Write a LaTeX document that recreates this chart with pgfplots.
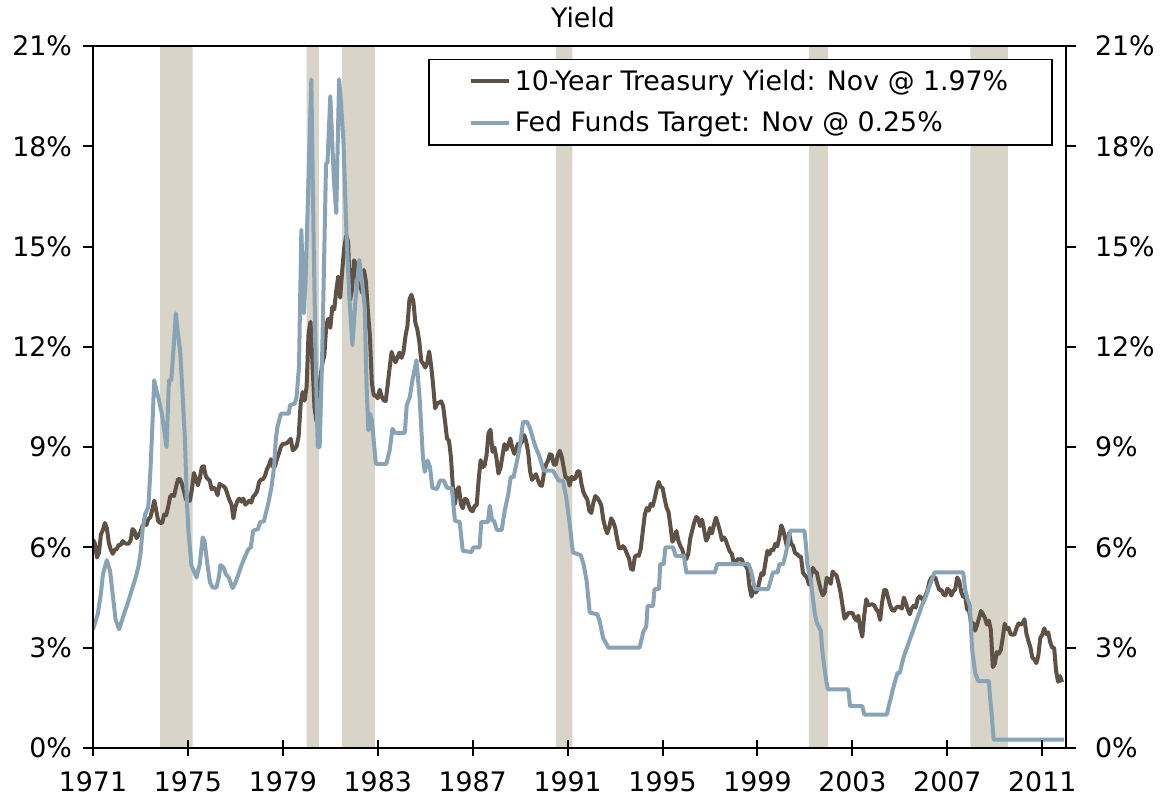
\documentclass[border=0pt]{standalone}
\usepackage{pgfplots}
\pgfplotsset{compat=1.18}
\usepackage{pgfplotstable}
\usepackage{fontspec}
\setmainfont{DejaVu Sans}
\definecolor{brn}{HTML}{5F5145}
\definecolor{blu}{HTML}{88A3B5}
\definecolor{rec}{HTML}{D8D4C8}
\newcommand{\fs}{\fontsize{13.4}{16}\selectfont}

% 10-Year Treasury yield, monthly, Jan 1971 - Nov 2011
\pgfplotstableread[row sep=\\]{
v\\
6.24\\6.11\\5.70\\5.83\\6.39\\6.52\\6.73\\6.58\\6.14\\5.93\\5.81\\5.93\\
5.95\\6.08\\6.07\\6.19\\6.13\\6.11\\6.11\\6.21\\6.55\\6.48\\6.28\\6.36\\
6.46\\6.64\\6.71\\6.67\\6.85\\6.90\\7.13\\7.40\\7.09\\6.79\\6.73\\6.74\\
6.99\\6.96\\7.21\\7.51\\7.58\\7.54\\7.81\\8.04\\8.04\\7.90\\7.68\\7.43\\
7.50\\7.39\\7.73\\8.23\\8.06\\7.86\\8.06\\8.40\\8.43\\8.14\\8.05\\8.00\\
7.74\\7.79\\7.73\\7.56\\7.90\\7.86\\7.83\\7.77\\7.59\\7.41\\7.29\\6.87\\
7.21\\7.39\\7.46\\7.37\\7.46\\7.28\\7.33\\7.40\\7.34\\7.52\\7.58\\7.69\\
7.96\\8.03\\8.04\\8.15\\8.35\\8.46\\8.64\\8.41\\8.42\\8.64\\8.81\\9.01\\
9.10\\9.10\\9.12\\9.18\\9.25\\8.91\\8.95\\9.03\\9.33\\10.30\\10.65\\10.39\\
10.80\\12.41\\12.75\\11.47\\10.18\\9.78\\10.25\\11.10\\11.51\\11.75\\12.68\\12.84\\
12.57\\13.19\\13.12\\13.68\\14.10\\13.47\\14.28\\14.94\\15.32\\15.15\\13.39\\13.72\\
14.59\\14.43\\13.86\\13.87\\13.62\\14.30\\13.95\\13.06\\12.34\\10.91\\10.55\\10.54\\
10.46\\10.72\\10.51\\10.40\\10.38\\10.85\\11.38\\11.85\\11.65\\11.54\\11.69\\11.83\\
11.67\\11.84\\12.32\\12.63\\13.41\\13.56\\13.36\\12.72\\12.52\\12.16\\11.57\\11.50\\
11.38\\11.51\\11.86\\11.43\\10.85\\10.16\\10.31\\10.33\\10.37\\10.24\\9.78\\9.26\\
9.19\\8.70\\7.78\\7.30\\7.71\\7.80\\7.30\\7.17\\7.45\\7.43\\7.25\\7.11\\
7.08\\7.25\\7.25\\8.02\\8.61\\8.40\\8.45\\8.76\\9.42\\9.52\\8.86\\8.99\\
8.67\\8.21\\8.37\\8.72\\9.09\\8.92\\9.06\\9.26\\8.98\\8.80\\8.96\\9.11\\
9.09\\9.17\\9.36\\9.18\\8.86\\8.28\\8.02\\8.11\\8.19\\8.01\\7.87\\7.84\\
8.21\\8.47\\8.59\\8.79\\8.76\\8.48\\8.47\\8.75\\8.89\\8.72\\8.39\\8.08\\
8.09\\7.85\\8.11\\8.04\\8.07\\8.28\\8.27\\7.90\\7.65\\7.53\\7.42\\7.09\\
7.03\\7.34\\7.54\\7.48\\7.39\\7.26\\6.84\\6.59\\6.42\\6.59\\6.87\\6.77\\
6.60\\6.26\\5.98\\5.97\\6.04\\5.96\\5.81\\5.68\\5.36\\5.33\\5.72\\5.77\\
5.75\\5.97\\6.48\\6.97\\7.18\\7.10\\7.30\\7.24\\7.46\\7.74\\7.96\\7.81\\
7.78\\7.47\\7.20\\7.06\\6.63\\6.17\\6.28\\6.49\\6.20\\6.04\\5.93\\5.71\\
5.65\\5.81\\6.27\\6.51\\6.74\\6.91\\6.87\\6.64\\6.83\\6.53\\6.20\\6.30\\
6.58\\6.42\\6.69\\6.89\\6.71\\6.49\\6.22\\6.30\\6.21\\6.03\\5.88\\5.81\\
5.54\\5.57\\5.65\\5.64\\5.65\\5.50\\5.46\\5.34\\4.81\\4.53\\4.83\\4.65\\
4.72\\5.00\\5.23\\5.18\\5.54\\5.90\\5.79\\5.94\\5.92\\6.11\\6.03\\6.28\\
6.66\\6.52\\6.26\\5.99\\6.44\\6.10\\6.05\\5.83\\5.80\\5.74\\5.72\\5.24\\
5.16\\5.10\\4.89\\5.14\\5.39\\5.28\\5.24\\4.97\\4.73\\4.57\\4.65\\5.09\\
5.04\\4.91\\5.28\\5.21\\5.16\\4.93\\4.65\\4.26\\3.87\\3.94\\4.05\\4.03\\
4.05\\3.90\\3.81\\3.96\\3.57\\3.33\\3.98\\4.45\\4.27\\4.29\\4.30\\4.27\\
4.15\\4.08\\3.83\\4.35\\4.72\\4.73\\4.50\\4.28\\4.13\\4.10\\4.19\\4.23\\
4.22\\4.17\\4.50\\4.34\\4.14\\4.00\\4.18\\4.26\\4.20\\4.46\\4.54\\4.47\\
4.42\\4.57\\4.72\\4.99\\5.11\\5.11\\5.09\\4.88\\4.72\\4.73\\4.60\\4.56\\
4.76\\4.72\\4.56\\4.69\\4.75\\5.10\\5.00\\4.67\\4.52\\4.53\\4.15\\4.10\\
3.74\\3.74\\3.51\\3.68\\3.88\\4.10\\4.01\\3.89\\3.69\\3.81\\3.53\\2.42\\
2.52\\2.87\\2.82\\2.93\\3.29\\3.72\\3.56\\3.59\\3.40\\3.39\\3.40\\3.59\\
3.73\\3.69\\3.73\\3.85\\3.42\\3.20\\3.01\\2.70\\2.65\\2.54\\2.76\\3.29\\
3.39\\3.58\\3.41\\3.46\\3.17\\3.00\\3.00\\2.30\\1.98\\2.15\\1.97\\
}\tsy

% Fed funds target
\pgfplotstableread[row sep=\\]{
x y\\
1971.0 3.55\\ 1971.2 4.0\\ 1971.33 4.6\\ 1971.42 5.2\\ 1971.58 5.62\\ 1971.72 5.3\\
1971.83 4.6\\ 1971.95 3.85\\ 1972.1 3.55\\ 1972.28 3.95\\ 1972.45 4.3\\ 1972.63 4.72\\
1972.8 5.1\\ 1972.92 5.45\\ 1973.0 5.8\\ 1973.1 6.6\\ 1973.2 7.0\\ 1973.33 7.2\\
1973.42 8.3\\ 1973.5 9.6\\ 1973.58 11.0\\ 1973.67 10.7\\ 1973.75 10.5\\ 1973.9 10.0\\
1974.0 9.5\\ 1974.1 9.0\\ 1974.2 11.0\\ 1974.3 11.0\\ 1974.4 12.0\\ 1974.49 13.0\\
1974.58 12.4\\ 1974.67 11.9\\ 1974.75 10.9\\ 1974.87 9.3\\ 1974.95 7.5\\ 1975.02 6.5\\
1975.15 5.45\\ 1975.36 5.1\\ 1975.5 5.5\\ 1975.62 6.3\\ 1975.7 6.2\\ 1975.8 5.6\\
1975.93 4.95\\ 1976.05 4.8\\ 1976.2 4.8\\ 1976.3 5.1\\ 1976.37 5.47\\ 1976.5 5.4\\
1976.6 5.2\\ 1976.72 5.1\\ 1976.88 4.78\\ 1977.0 4.95\\ 1977.12 5.18\\ 1977.25 5.45\\
1977.4 5.72\\ 1977.55 5.95\\ 1977.65 6.0\\ 1977.75 6.5\\ 1977.95 6.55\\ 1978.05 6.76\\
1978.2 6.78\\ 1978.38 7.3\\ 1978.52 7.8\\ 1978.63 8.4\\ 1978.7 9.2\\ 1978.77 9.6\\
1978.92 10.0\\ 1979.25 10.0\\ 1979.3 10.25\\ 1979.5 10.3\\ 1979.58 10.5\\ 1979.68 11.4\\
1979.78 15.5\\ 1979.88 13.0\\ 1979.96 14.0\\ 1980.08 17.0\\ 1980.2 20.0\\ 1980.3 15.0\\
1980.4 11.0\\ 1980.47 9.0\\ 1980.55 9.0\\ 1980.65 11.5\\ 1980.75 15.0\\ 1980.82 17.5\\
1980.88 17.5\\ 1981.0 19.5\\ 1981.15 17.0\\ 1981.25 16.0\\ 1981.37 20.0\\ 1981.45 19.3\\
1981.55 18.2\\ 1981.68 15.4\\ 1981.8 13.5\\ 1981.93 12.05\\ 1982.05 13.3\\ 1982.22 14.6\\
1982.33 14.0\\ 1982.45 13.2\\ 1982.52 11.0\\ 1982.6 9.5\\ 1982.67 10.0\\ 1982.75 9.8\\
1982.92 8.5\\ 1983.36 8.5\\ 1983.5 8.9\\ 1983.62 9.55\\ 1983.72 9.43\\ 1984.14 9.43\\
1984.22 10.25\\ 1984.35 10.5\\ 1984.46 11.0\\ 1984.63 11.6\\ 1984.77 10.4\\ 1984.9 8.7\\
1984.98 8.26\\ 1985.1 8.6\\ 1985.2 8.4\\ 1985.3 7.78\\ 1985.5 7.75\\ 1985.62 8.0\\
1985.78 8.0\\ 1985.92 7.78\\ 1986.12 7.78\\ 1986.25 6.8\\ 1986.45 6.76\\ 1986.58 5.9\\
1986.95 5.86\\ 1987.02 6.0\\ 1987.29 6.0\\ 1987.36 6.76\\ 1987.64 6.76\\ 1987.72 7.25\\
1987.82 6.8\\ 1987.9 6.8\\ 1988.02 6.52\\ 1988.22 6.52\\ 1988.35 7.1\\ 1988.5 7.6\\
1988.6 8.1\\ 1988.72 8.1\\ 1988.9 8.7\\ 1988.98 9.0\\ 1989.12 9.75\\ 1989.3 9.75\\
1989.42 9.55\\ 1989.54 9.25\\ 1989.65 9.0\\ 1989.8 8.75\\ 1989.99 8.3\\ 1990.38 8.3\\
1990.5 8.15\\ 1990.62 8.0\\ 1990.8 8.0\\ 1990.94 7.5\\ 1991.08 6.75\\ 1991.22 5.85\\
1991.55 5.77\\ 1991.67 5.5\\ 1991.8 5.0\\ 1991.93 4.05\\ 1992.25 4.0\\ 1992.35 3.8\\
1992.49 3.3\\ 1992.72 3.0\\ 1994.03 3.0\\ 1994.2 3.5\\ 1994.31 3.62\\ 1994.37 4.25\\
1994.6 4.25\\ 1994.66 4.75\\ 1994.85 4.75\\ 1994.9 5.5\\ 1995.05 5.5\\ 1995.12 6.0\\
1995.45 6.0\\ 1995.55 5.75\\ 1995.9 5.75\\ 1996.0 5.25\\ 1997.2 5.25\\ 1997.3 5.5\\
1998.62 5.5\\ 1998.75 5.25\\ 1998.82 5.0\\ 1998.9 4.75\\ 1999.45 4.75\\ 1999.55 5.0\\
1999.65 5.25\\ 1999.85 5.25\\ 1999.92 5.5\\ 2000.08 5.5\\ 2000.17 5.75\\ 2000.25 6.0\\
2000.38 6.5\\ 2000.98 6.5\\ 2001.05 6.0\\ 2001.1 5.5\\ 2001.25 5.0\\ 2001.33 4.5\\
2001.42 4.0\\ 2001.5 3.75\\ 2001.67 3.5\\ 2001.72 3.0\\ 2001.8 2.5\\ 2001.9 2.0\\
2001.97 1.75\\ 2002.83 1.75\\ 2002.9 1.25\\ 2003.42 1.25\\ 2003.5 1.0\\ 2004.45 1.0\\
2004.53 1.25\\ 2004.62 1.5\\ 2004.7 1.75\\ 2004.8 2.0\\ 2004.9 2.25\\ 2005.0 2.25\\
2005.08 2.5\\ 2005.17 2.75\\ 2005.3 3.0\\ 2005.42 3.25\\ 2005.55 3.5\\ 2005.67 3.75\\
2005.8 4.0\\ 2005.92 4.25\\ 2006.08 4.5\\ 2006.2 4.75\\ 2006.33 5.0\\ 2006.45 5.25\\
2007.67 5.25\\ 2007.75 4.75\\ 2007.83 4.5\\ 2007.95 4.25\\ 2008.04 3.0\\ 2008.17 2.25\\
2008.3 2.0\\ 2008.75 2.0\\ 2008.8 1.5\\ 2008.87 1.0\\ 2008.95 0.25\\ 2011.92 0.25\\
}\tff

\pgfplotsset{
  base/.style={scale only axis, width=486.5pt, height=351pt,
    xmin=1971, xmax=2012, ymin=0, ymax=21,
    at={(0,0)}, anchor=south west,
    axis line style={line width=1pt, black},
    every tick/.style={line width=1pt, black},
    tick label style={font=\fs}},
  ylab/.style={hide x axis, tick align=outside, major tick length=5pt,
    ytick={0,3,...,21},
    yticklabels={0\%,3\%,6\%,9\%,12\%,15\%,18\%,21\%}},
  rbar/.style={fill=rec, draw=none, forget plot},
}

\begin{document}
\begin{tikzpicture}
\begin{axis}[base, axis on top,
  xtick={1971,1975,...,2011},
  xticklabels={1971,1975,1979,1983,1987,1991,1995,1999,2003,2007,2011},
  xtick pos=left, tick align=center, major tick length=8pt,
  xticklabel style={anchor=north, yshift=-4.5pt},
  ytick=\empty,
  title={Yield}, title style={font=\fs, at={(0.5,1)}, anchor=base, yshift=3.3pt, xshift=1.75pt},
  legend style={at={(0.9866,0.9815)}, anchor=north east, draw=black, line width=0.75pt,
    fill=white, font=\fs, inner xsep=20pt, inner ysep=3pt, row sep=5.2pt, cells={anchor=west}},
  legend image code/.code={\draw[#1] (0pt,0pt) -- (19pt,0pt);},
  legend cell align=left]
\addplot[rbar] coordinates {(1973.83,0) (1973.83,21) (1975.2,21) (1975.2,0)} \closedcycle;
\addplot[rbar] coordinates {(1980.0,0) (1980.0,21) (1980.52,21) (1980.52,0)} \closedcycle;
\addplot[rbar] coordinates {(1981.5,0) (1981.5,21) (1982.88,21) (1982.88,0)} \closedcycle;
\addplot[rbar] coordinates {(1990.5,0) (1990.5,21) (1991.2,21) (1991.2,0)} \closedcycle;
\addplot[rbar] coordinates {(2001.17,0) (2001.17,21) (2001.97,21) (2001.97,0)} \closedcycle;
\addplot[rbar] coordinates {(2007.97,0) (2007.97,21) (2009.55,21) (2009.55,0)} \closedcycle;
\addplot[brn, line width=2pt, line join=round] table[x expr=1971+\coordindex/12, y=v] {\tsy};
\addlegendentry{10-Year Treasury Yield: Nov @ 1.97\%}
\addplot[blu, line width=2pt, line join=round] table[x=x, y=y] {\tff};
\addlegendentry{Fed Funds Target: Nov @ 0.25\%}
\end{axis}
\begin{axis}[base, ylab, axis y line*=left, yticklabel style={xshift=-2pt}]
\end{axis}
\begin{axis}[base, ylab, axis y line*=right, yticklabel style={xshift=6pt}]
\end{axis}
\pgfresetboundingbox
\useasboundingbox (-46.5pt,-26.5pt) rectangle (537pt,374pt);
\end{tikzpicture}
\end{document}
